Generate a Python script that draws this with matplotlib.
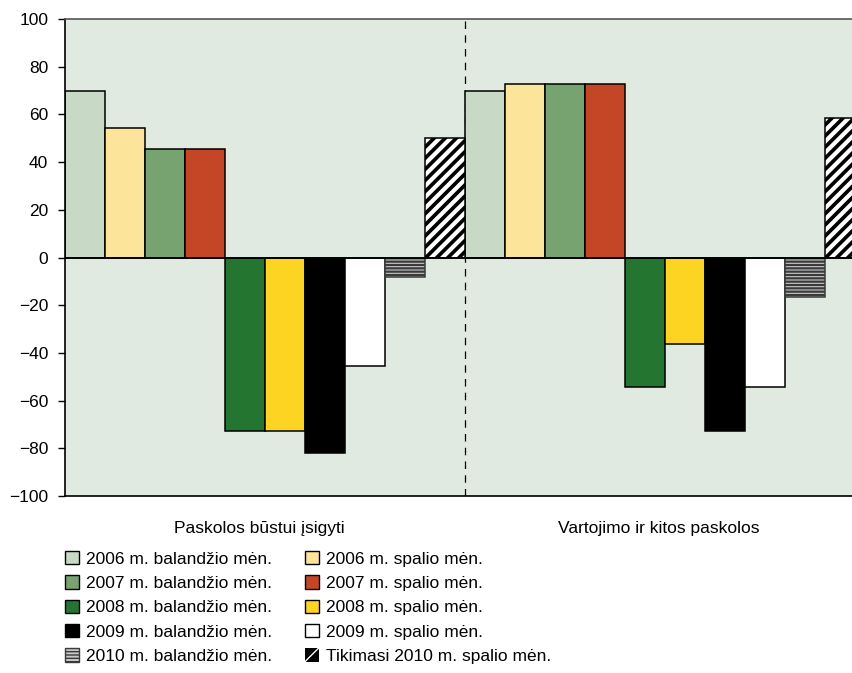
import numpy as np
import matplotlib.pyplot as plt
from matplotlib.patches import Patch

plt.rcParams['font.family'] = ['Liberation Sans Narrow', 'Liberation Sans', 'DejaVu Sans']

groups = ['Paskolos būstui įsigyti', 'Vartojimo ir kitos paskolos']
series = ['2006 m. balandžio mėn.', '2006 m. spalio mėn.',
          '2007 m. balandžio mėn.', '2007 m. spalio mėn.',
          '2008 m. balandžio mėn.', '2008 m. spalio mėn.',
          '2009 m. balandžio mėn.', '2009 m. spalio mėn.',
          '2010 m. balandžio mėn.', 'Tikimasi 2010 m. spalio mėn.']
# one row per series: [būstui, vartojimo]
values = [
    [70.0, 70.0],
    [54.5, 72.7],
    [45.5, 72.7],
    [45.5, 72.7],
    [-72.7, -54.5],
    [-72.7, -36.4],
    [-81.8, -72.7],
    [-45.5, -54.5],
    [-8.0, -16.7],
    [50.0, 58.3],
]
colors = ['#C8DAC5', '#FCE59A', '#76A370', '#C44626', '#247530',
          '#FDD422', '#000000', '#FFFFFF', '#C8C8C8', '#000000']
yticks = np.arange(-100, 101, 20)

fig = plt.figure(figsize=(8.53, 6.73), dpi=100)
# right edge of the axes runs a bit past the figure
ax = fig.add_axes([65 / 853, 1 - 496 / 673, 800 / 853, 477 / 673])
ax.set_facecolor('#E1EAE0')

n = len(series)
handles = []
for i, (name, vals, c) in enumerate(zip(series, values, colors)):
    xs = [g * n + i + 0.5 for g in range(len(groups))]
    if i == 8:
        with plt.rc_context({'hatch.linewidth': 1.6}):
            ax.bar(xs, vals, width=1, color=c, edgecolor='#3a3a3a', hatch='-----', linewidth=1.1, zorder=2)
            h = Patch(facecolor=c, edgecolor='#3a3a3a', hatch='-----', linewidth=1.0)
    elif i == 9:
        with plt.rc_context({'hatch.linewidth': 3.0}):
            ax.bar(xs, vals, width=1, color=c, edgecolor='white', hatch='///', linewidth=0, zorder=2)
            h = Patch(facecolor='black', edgecolor='white', hatch='/', linewidth=0.0)
        ax.bar(xs, vals, width=1, fill=False, edgecolor='black', linewidth=1.1, zorder=3)
    else:
        ax.bar(xs, vals, width=1, color=c, edgecolor='black', linewidth=1.1, zorder=2)
        h = Patch(facecolor=c, edgecolor='black', linewidth=1.0)
    handles.append(h)

ax.axhline(0, color='black', linewidth=1.3, zorder=4)
ax.axvline(n, color='black', linewidth=0.9, linestyle=(0, (6, 5)), zorder=1)

ax.set_xlim(0, n * len(groups))
ax.set_ylim(-100, 100)
ax.set_yticks(yticks)
ax.tick_params(axis='y', direction='out', length=5, width=1, labelsize=12.5, pad=7)
ax.set_xticks([])
for s in ['left', 'bottom']:
    ax.spines[s].set_color('black')
    ax.spines[s].set_linewidth(1.2)
ax.spines['top'].set_color('#555555')
ax.spines['top'].set_linewidth(1.2)
ax.spines['right'].set_visible(False)

for g, name in enumerate(groups):
    ax.text(g * n + n / 2 - 0.15, -113.5, name, ha='center', va='center', fontsize=12.5)

# legend: first column balandžio, second spalio
order = [0, 2, 4, 6, 8, 1, 3, 5, 7, 9]
fig.legend([handles[k] for k in order], [series[k] for k in order],
           loc='upper left', bbox_to_anchor=(58 / 853, 1 - 544 / 673), ncol=2,
           frameon=False, fontsize=12.5, handlelength=0.8, handleheight=0.8,
           handletextpad=0.4, columnspacing=1.9, labelspacing=0.5, borderaxespad=0)

fig.savefig('out.png', dpi=100)
